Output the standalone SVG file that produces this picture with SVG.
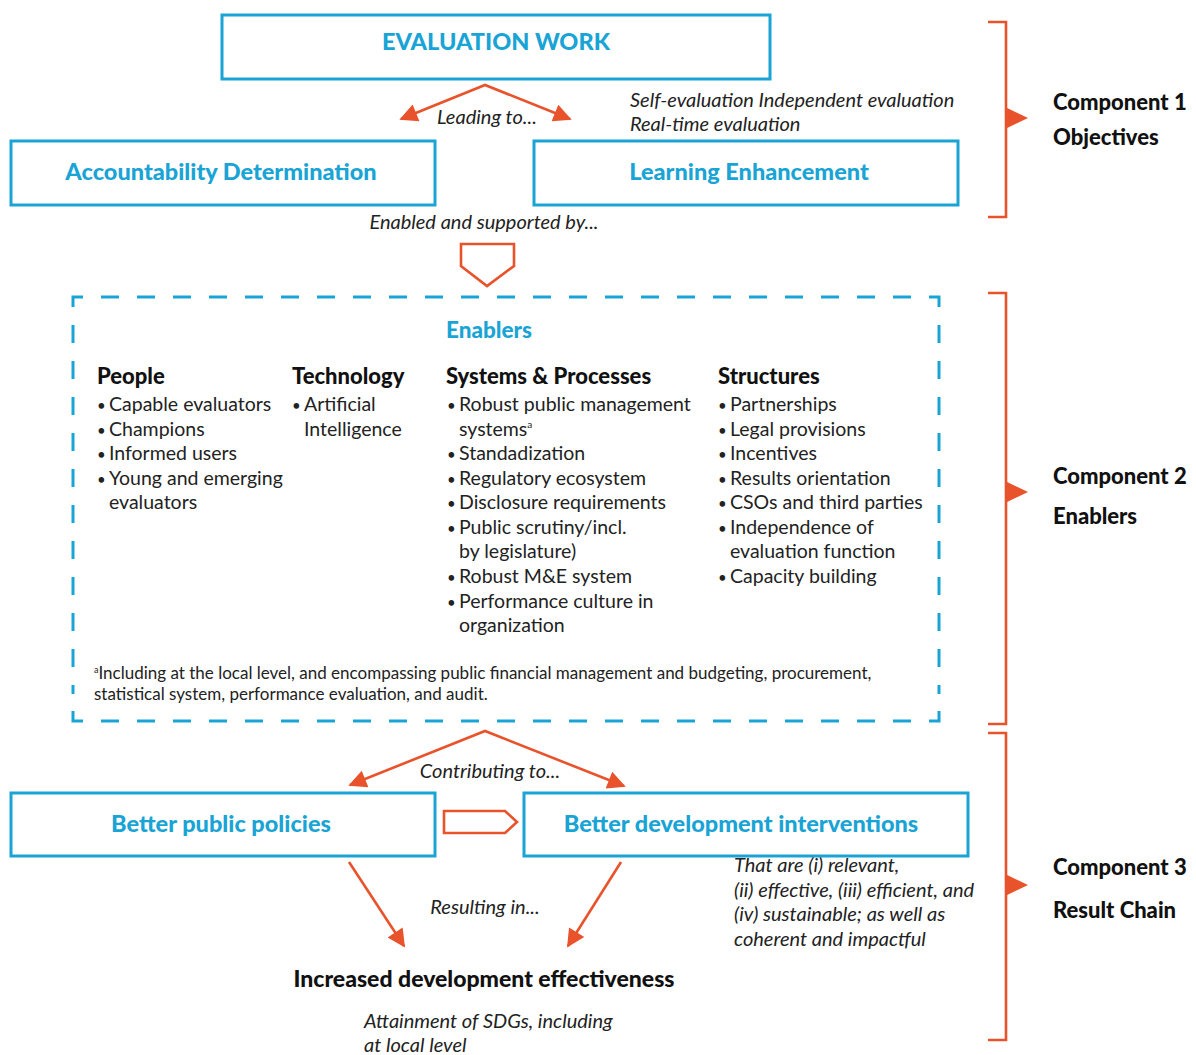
<svg xmlns="http://www.w3.org/2000/svg" width="1196" height="1055" viewBox="0 0 1196 1055">
  <defs>
    <style>
      .box { fill: #ffffff; stroke: #19A4D5; stroke-width: 3; }
      .dash { fill: none; stroke: #19A4D5; stroke-width: 3; stroke-dasharray: 18 18; }
      .corner { fill: none; stroke: #19A4D5; stroke-width: 3; }
      .arrow { fill: none; stroke: #E8532B; stroke-width: 2.6; }
      .bracket { fill: none; stroke: #E8532B; stroke-width: 2.6; }
      .hollow { fill: #ffffff; stroke: #E8532B; stroke-width: 2.6; stroke-linejoin: miter; }
      .pointer { fill: #E8532B; }
      .title { font-family: Lato, "Open Sans", sans-serif; font-weight: 900; font-size: 23.5px; fill: #19A4D5; text-anchor: middle; }
      .head { font-family: Lato, "Open Sans", sans-serif; font-weight: 900; font-size: 22px; fill: #111111; }
      .item { font-family: Lato, "Open Sans", sans-serif; font-size: 19.5px; fill: #222222; }
      .bul { font-size: 15px; }
      .note { font-family: Lato, "Open Sans", sans-serif; font-size: 17px; fill: #222222; }
      .ital { font-family: Lato, "Open Sans", sans-serif; font-style: italic; font-size: 20px; fill: #222222; }
      .comp { font-family: Lato, "Open Sans", sans-serif; font-weight: 900; font-size: 22px; fill: #111111; }
    </style>
    <marker id="head" viewBox="0 0 10 10" refX="9" refY="5" markerWidth="22" markerHeight="18" markerUnits="userSpaceOnUse" orient="auto-start-reverse">
      <path d="M0,0 L10,5 L0,10 z" fill="#E8532B"/>
    </marker>
  </defs>

  <!-- Component 1: objectives -->
  <g id="evaluation-work">
    <rect class="box" x="222" y="15" width="548" height="64"/>
    <text class="title" x="496" y="50">EVALUATION WORK</text>
  </g>
  <g id="accountability">
    <rect class="box" x="11" y="141" width="424" height="64"/>
    <text class="title" x="221" y="180">Accountability Determination</text>
  </g>
  <g id="learning">
    <rect class="box" x="534" y="141" width="424" height="64"/>
    <text class="title" x="749" y="180">Learning Enhancement</text>
  </g>
  <g id="evaluation-types">
    <text class="ital" x="630" y="107">Self-evaluation Independent evaluation</text>
    <text class="ital" x="630" y="131">Real-time evaluation</text>
  </g>

  <!-- Component 2: enablers -->
  <g id="enablers">
    <path class="corner" d="M73,307 V297 H83 M929,297 H939 V307 M939,711 V721 H929 M83,721 H73 V711"/>
    <line class="dash" x1="101" y1="297" x2="912" y2="297"/>
    <line class="dash" x1="101" y1="721" x2="912" y2="721"/>
    <line class="dash" x1="73" y1="325" x2="73" y2="694"/>
    <line class="dash" x1="939" y1="325" x2="939" y2="694"/>
    <text class="title" x="489" y="338" style="font-size:22.5px">Enablers</text>

    <g id="people">
      <text class="head" x="97" y="384">People</text>
      <text class="item" y="411"><tspan class="bul" x="97">•</tspan><tspan x="109">Capable evaluators</tspan></text>
      <text class="item" y="436"><tspan class="bul" x="97">•</tspan><tspan x="109">Champions</tspan></text>
      <text class="item" y="460"><tspan class="bul" x="97">•</tspan><tspan x="109">Informed users</tspan></text>
      <text class="item" y="485"><tspan class="bul" x="97">•</tspan><tspan x="109">Young and emerging</tspan></text>
      <text class="item" x="109" y="509">evaluators</text>
    </g>
    <g id="technology">
      <text class="head" x="292" y="384">Technology</text>
      <text class="item" y="411"><tspan class="bul" x="292">•</tspan><tspan x="304">Artificial</tspan></text>
      <text class="item" x="304" y="436">Intelligence</text>
    </g>
    <g id="systems">
      <text class="head" x="446" y="384">Systems &amp; Processes</text>
      <text class="item" y="411"><tspan class="bul" x="447">•</tspan><tspan x="459">Robust public management</tspan></text>
      <text class="item" x="459" y="436">systems<tspan font-size="10" dy="-8">a</tspan></text>
      <text class="item" y="460"><tspan class="bul" x="447">•</tspan><tspan x="459">Standadization</tspan></text>
      <text class="item" y="485"><tspan class="bul" x="447">•</tspan><tspan x="459">Regulatory ecosystem</tspan></text>
      <text class="item" y="509"><tspan class="bul" x="447">•</tspan><tspan x="459">Disclosure requirements</tspan></text>
      <text class="item" y="534"><tspan class="bul" x="447">•</tspan><tspan x="459">Public scrutiny/incl.</tspan></text>
      <text class="item" x="459" y="558">by legislature)</text>
      <text class="item" y="583"><tspan class="bul" x="447">•</tspan><tspan x="459">Robust M&amp;E system</tspan></text>
      <text class="item" y="608"><tspan class="bul" x="447">•</tspan><tspan x="459">Performance culture in</tspan></text>
      <text class="item" x="459" y="632">organization</text>
    </g>
    <g id="structures">
      <text class="head" x="718" y="384">Structures</text>
      <text class="item" y="411"><tspan class="bul" x="718">•</tspan><tspan x="730">Partnerships</tspan></text>
      <text class="item" y="436"><tspan class="bul" x="718">•</tspan><tspan x="730">Legal provisions</tspan></text>
      <text class="item" y="460"><tspan class="bul" x="718">•</tspan><tspan x="730">Incentives</tspan></text>
      <text class="item" y="485"><tspan class="bul" x="718">•</tspan><tspan x="730">Results orientation</tspan></text>
      <text class="item" y="509"><tspan class="bul" x="718">•</tspan><tspan x="730">CSOs and third parties</tspan></text>
      <text class="item" y="534"><tspan class="bul" x="718">•</tspan><tspan x="730">Independence of</tspan></text>
      <text class="item" x="730" y="558">evaluation function</text>
      <text class="item" y="583"><tspan class="bul" x="718">•</tspan><tspan x="730">Capacity building</tspan></text>
    </g>
    <text class="note" x="94" y="679"><tspan font-size="9" dy="-6">a</tspan><tspan dy="6">Including at the local level, and encompassing public financial management and budgeting, procurement,</tspan></text>
    <text class="note" x="94" y="700">statistical system, performance evaluation, and audit.</text>
  </g>

  <!-- Component 3: result chain -->
  <g id="public-policies">
    <rect class="box" x="11" y="793" width="424" height="63"/>
    <text class="title" x="221" y="832">Better public policies</text>
  </g>
  <g id="interventions">
    <rect class="box" x="524" y="793" width="444" height="63"/>
    <text class="title" x="741" y="832">Better development interventions</text>
  </g>
  <g id="criteria">
    <text class="ital" x="734" y="872">That are (i) relevant,</text>
    <text class="ital" x="734" y="897">(ii) effective, (iii) efficient, and</text>
    <text class="ital" x="734" y="921">(iv) sustainable; as well as</text>
    <text class="ital" x="734" y="946">coherent and impactful</text>
  </g>
  <g id="effectiveness">
    <text class="head" x="484" y="987" text-anchor="middle" style="font-size:23px">Increased development effectiveness</text>
    <text class="ital" x="364" y="1028">Attainment of SDGs, including</text>
    <text class="ital" x="364" y="1052">at local level</text>
  </g>

  <!-- Connectors -->
  <g id="connectors">
    <polyline class="arrow" points="401,119 485,85 570,119" marker-start="url(#head)" marker-end="url(#head)"/>
    <text class="ital" x="487" y="124" text-anchor="middle">Leading to...</text>
    <text class="ital" x="484" y="229" text-anchor="middle">Enabled and supported by...</text>
    <path class="hollow" d="M461,244 H514 V266 L487,286 L461,266 Z"/>

    <polyline class="arrow" points="350,785 485,731 624,786" marker-start="url(#head)" marker-end="url(#head)"/>
    <text class="ital" x="490" y="778" text-anchor="middle">Contributing to...</text>
    <path class="hollow" d="M444,811 H505 L517,822 L505,833 H444 Z"/>

    <line class="arrow" x1="349" y1="862" x2="404" y2="946" marker-end="url(#head)"/>
    <line class="arrow" x1="621" y1="862" x2="568" y2="946" marker-end="url(#head)"/>
    <text class="ital" x="485" y="914" text-anchor="middle">Resulting in...</text>
  </g>

  <!-- Component brackets -->
  <g id="component-1">
    <path class="bracket" d="M988,22 H1006 V217 H988"/>
    <path class="pointer" d="M1005,107 L1028,118 L1005,129 Z"/>
    <text class="comp" x="1053" y="110">Component 1</text>
    <text class="comp" x="1053" y="145">Objectives</text>
  </g>
  <g id="component-2">
    <path class="bracket" d="M988,293 H1006 V724 H988"/>
    <path class="pointer" d="M1005,481 L1028,492 L1005,503 Z"/>
    <text class="comp" x="1053" y="484">Component 2</text>
    <text class="comp" x="1053" y="524">Enablers</text>
  </g>
  <g id="component-3">
    <path class="bracket" d="M988,733 H1006 V1040 H988"/>
    <path class="pointer" d="M1005,874 L1028,885 L1005,896 Z"/>
    <text class="comp" x="1053" y="875">Component 3</text>
    <text class="comp" x="1053" y="918">Result Chain</text>
  </g>
</svg>
